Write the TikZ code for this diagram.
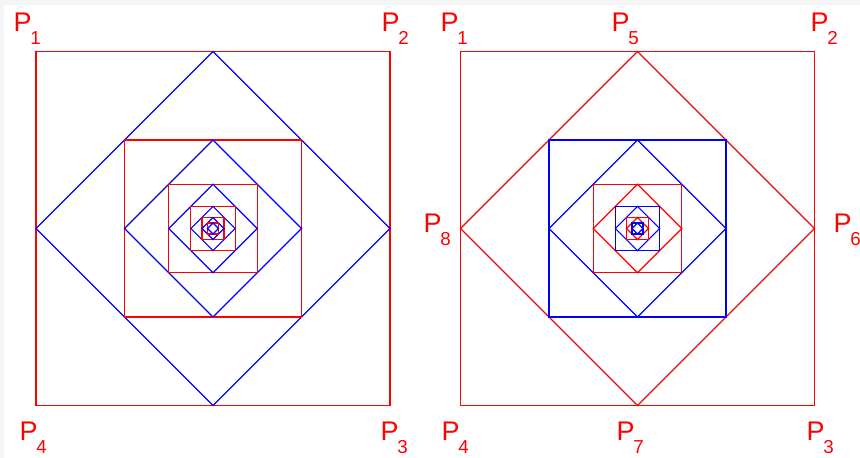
\documentclass[tikz,border=0pt]{standalone}
\usepackage{fontspec}
\setmainfont{Liberation Sans}
\newcommand\idx[1]{\kern-1pt\raisebox{-11pt}{\fontsize{16}{16}\selectfont#1}}
\begin{document}
\begin{tikzpicture}[x=0.03cm, y=-0.03cm, line width=1pt,
    lbl/.style={text=red, font=\fontsize{23}{23}\selectfont, anchor=base west, inner sep=0pt}]
    % frame
    \useasboundingbox (0,0) rectangle (860,458);
    \fill[black!4] (0,0) rectangle (860,458);
    \fill[white] (4,5) rectangle (860,458);
    % left: red squares, blue diamonds
    \begin{scope}[shift={(213,228.5)}]
        \foreach \k in {0,...,5} {
            \pgfmathsetmacro\s{177/2^\k}
            \draw[red] (-\s,-\s) rectangle (\s,\s);
            \draw[blue] (0,-\s) -- (\s,0) -- (0,\s) -- (-\s,0) -- cycle;
        }
    \end{scope}
    % right: colour changes every level
    \begin{scope}[shift={(637.5,228.5)}]
        \foreach \k/\c in {0/red,1/blue,2/red,3/blue,4/red,5/blue} {
            \pgfmathsetmacro\s{177/2^\k}
            \draw[\c] (-\s,-\s) rectangle (\s,\s);
            \draw[\c] (0,-\s) -- (\s,0) -- (0,\s) -- (-\s,0) -- cycle;
        }
    \end{scope}
    % labels left
    \node[lbl] (a1) at (13,32) {P\idx{1}};
    \node[lbl] (a2) at (381,32) {P\idx{2}};
    \node[lbl] (a4) at (19,441) {P\idx{4}};
    \node[lbl] (a3) at (380,441) {P\idx{3}};
    % labels right
    \node[lbl] (b1) at (440,32) {P\idx{1}};
    \node[lbl] (b5) at (611,32) {P\idx{5}};
    \node[lbl] (b2) at (810,32) {P\idx{2}};
    \node[lbl] (b8) at (423,233) {P\idx{8}};
    \node[lbl] (b6) at (833,233) {P\idx{6}};
    \node[lbl] (b4) at (441,441) {P\idx{4}};
    \node[lbl] (b7) at (616,441) {P\idx{7}};
    \node[lbl] (b3) at (806,441) {P\idx{3}};
\end{tikzpicture}
\end{document}
